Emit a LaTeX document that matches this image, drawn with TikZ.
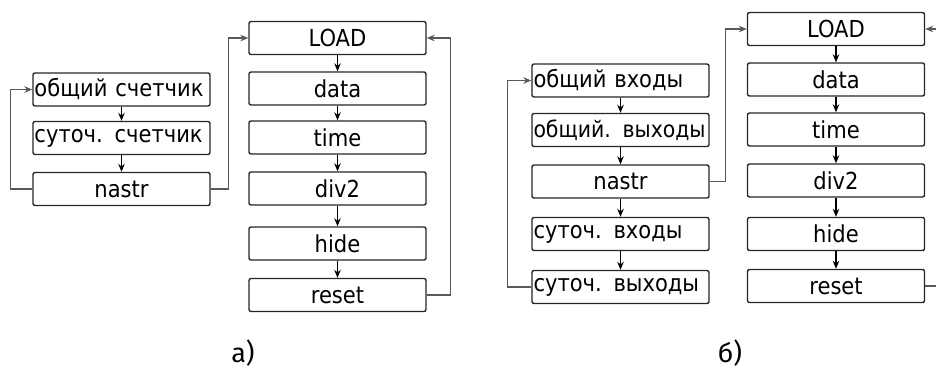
\documentclass[tikz,border=0pt]{standalone}
\usepackage{fontspec}
\setmainfont{DejaVu Sans}
\newfontfamily\boxfont{DejaVu Sans Condensed}
\newfontfamily\labfont{Fira Sans}
\usetikzlibrary{arrows.meta}
\begin{document}
\begin{tikzpicture}[x=1bp,y=-1bp,
  blk/.style={draw=black!85,line width=1.4bp,rounded corners=2bp,fill=white,
    inner sep=0pt,font=\boxfont\fontsize{23.5}{23.5}\selectfont},
  acol/.style={blk,minimum width=177bp,minimum height=33bp},
  lcol/.style={acol,text width=174bp,align=left},
  conn/.style={draw=black!65,line width=1.1bp,-{Stealth[length=8bp,width=6.5bp]}},
  varr/.style={draw=black,line width=1.2bp,-{Stealth[length=8bp,width=6.5bp]}},
  lab/.style={font=\labfont\fontsize{27}{27}\selectfont,inner sep=0pt,anchor=base}]
\clip (0,0) rectangle (936,370);
\useasboundingbox (0,0) rectangle (936,370);
% panel a
\node[lcol] (ao) at (121.5,89.5) {общий счетчик};
\node[lcol] (as) at (121.5,138) {суточ. счетчик};
\node[acol] (an) at (121.5,189) {nastr};
\node[acol] (aL) at (337.5,38) {LOAD};
\node[acol] (ad) at (337.5,88.5) {data};
\node[acol] (at) at (337.5,137.5) {time};
\node[acol] (av) at (337.5,188.5) {div2};
\node[acol] (ah) at (337.5,243.5) {hide};
\node[acol] (ar) at (337.5,295) {reset};
\draw[varr] (ao) -- (as);
\draw[varr] (as) -- (an);
\draw[varr] (aL) -- (ad);
\draw[varr] (ad) -- (at);
\draw[varr] (at) -- (av);
\draw[varr] (av) -- (ah);
\draw[varr] (ah) -- (ar);
\draw[conn] (an.west) -- ++(-22,0) |- (ao.west);
\draw[conn] (an.east) -- ++(18,0) |- (aL.west);
\draw[conn] (ar.east) -- ++(24,0) |- (aL.east);
\node[lab] (la) at (243,362) {а)};
% panel b
\node[lcol] (bo1) at (620.5,80.5) {общий входы};
\node[lcol] (bo2) at (620.5,130) {\mbox{\fontsize{22.8}{23}\selectfont общий. выходы}};
\node[acol] (bn) at (620.5,181.5) {nastr};
\node[lcol] (bs1) at (620.5,234) {суточ. входы};
\node[lcol] (bs2) at (620.5,287) {суточ. выходы};
\node[acol] (bL) at (836,29) {LOAD};
\node[acol] (bd) at (836,79.5) {data};
\node[acol] (bt) at (836,129.5) {time};
\node[acol] (bv) at (836,180.5) {div2};
\node[acol] (bh) at (836,234) {hide};
\node[acol] (br) at (836,286) {reset};
\draw[varr] (bo1) -- (bo2);
\draw[varr] (bo2) -- (bn);
\draw[varr] (bn) -- (bs1);
\draw[varr] (bs1) -- (bs2);
\draw[varr] (bL) -- (bd);
\draw[varr] (bd) -- (bt);
\draw[varr] (bt) -- (bv);
\draw[varr] (bv) -- (bh);
\draw[varr] (bh) -- (br);
\draw[conn] (bs2.west) -- ++(-24,0) |- (bo1.west);
\draw[conn] (bn.east) -- ++(16,0) |- (bL.west);
\draw[conn] (br.east) -- ++(25,0) |- (bL.east);
\node[lab] (lb) at (730,362) {б)};
\end{tikzpicture}
\end{document}
